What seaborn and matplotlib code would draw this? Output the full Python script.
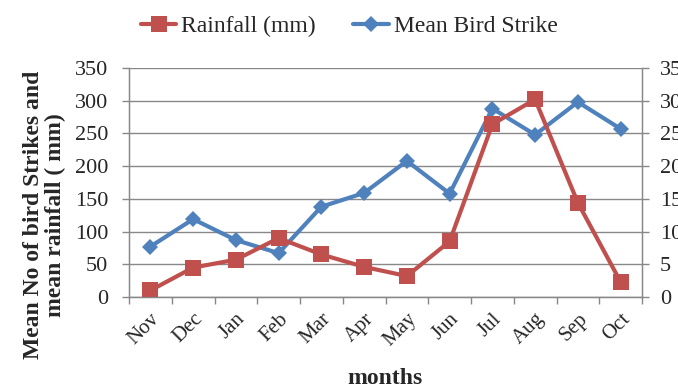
import numpy as np
import pandas as pd
import seaborn as sns
import matplotlib.pyplot as plt
from matplotlib.ticker import FixedLocator

months = ["Nov", "Dec", "Jan", "Feb", "Mar", "Apr", "May", "Jun", "Jul", "Aug", "Sep", "Oct"]
rainfall = [10, 45, 57, 90, 65, 46, 32, 85, 264, 302, 144, 23]
bird_strike = [77, 119, 87, 67, 138, 159, 208, 158, 288, 248, 298, 257]
left_ticks = [0, 50, 100, 150, 200, 250, 300, 350]
right_ticks = [0, 5, 10, 15, 20, 25, 30, 35]

red = "#C0504D"
blue = "#4F81BD"
grid_gray = "#888888"

sns.set_style("white")
plt.rcParams["font.family"] = ["Liberation Serif", "DejaVu Serif"]

df = pd.DataFrame({
    "pos": np.arange(len(months)),
    "Rainfall (mm)": rainfall,
    "Mean Bird Strike": bird_strike,
})

fig = plt.figure(figsize=(6.78, 3.89), dpi=100)
ax = fig.add_axes([129 / 678, 1 - 297 / 389, 513 / 678, 229 / 389])

sns.lineplot(data=df, x="pos", y="Rainfall (mm)", ax=ax, color=red, linewidth=3,
             marker="s", markersize=11, markeredgewidth=0, label="Rainfall (mm)", zorder=4)
sns.lineplot(data=df, x="pos", y="Mean Bird Strike", ax=ax, color=blue, linewidth=3,
             marker="D", markersize=8.5, markeredgewidth=0, label="Mean Bird Strike", zorder=3)

ax.set_xlim(-0.5, len(months) - 0.5)
ax.set_ylim(0, 350)
ax.set_yticks(left_ticks)
ax.yaxis.grid(True, color=grid_gray, linewidth=1)
ax.set_axisbelow(True)

ax.set_xticks(np.arange(len(months)))
ax.set_xticklabels(months, rotation=45, ha="right", rotation_mode="anchor", fontsize=15)
ax.xaxis.set_minor_locator(FixedLocator(np.arange(-0.5, len(months), 1)))
ax.tick_params(axis="x", which="major", length=0, pad=9)
ax.tick_params(axis="x", which="minor", length=5, color=grid_gray, width=1, direction="out", bottom=True)
ax.tick_params(axis="y", length=5, color=grid_gray, width=1, direction="out", labelsize=16, pad=10, left=True)

ax.spines["top"].set_visible(False)
for side in ["left", "bottom", "right"]:
    ax.spines[side].set_visible(True)
    ax.spines[side].set_color(grid_gray)
    ax.spines[side].set_linewidth(1)

ax.set_xlabel("")
ax.set_ylabel("")
ax.get_legend().remove()

# secondary scale on the right (0-35), clipped by the figure edge as in the original
ax2 = ax.twinx()
ax2.set_ylim(0, 35)
ax2.set_yticks(right_ticks)
ax2.tick_params(axis="y", length=5, color=grid_gray, width=1, direction="out", labelsize=16, pad=8, right=True)
ax2.spines["top"].set_visible(False)
for side in ["left", "bottom", "right"]:
    ax2.spines[side].set_color(grid_gray)

handles, labels = ax.get_legend_handles_labels()
fig.legend(handles, labels, loc="upper center", bbox_to_anchor=(0.515, 1.015), ncol=2,
           frameon=False, fontsize=17, handlelength=1.5, handletextpad=0.2, columnspacing=1.6)

fig.text(0.568, 0.0, "months", ha="center", va="bottom", fontsize=17, fontweight="bold")
fig.text(0.066, 0.447, "Mean No of bird Strikes and\nmean rainfall ( mm)", ha="center", va="center",
         rotation=90, fontsize=17, fontweight="bold", linespacing=1.05)

fig.savefig("out.png", dpi=100)
